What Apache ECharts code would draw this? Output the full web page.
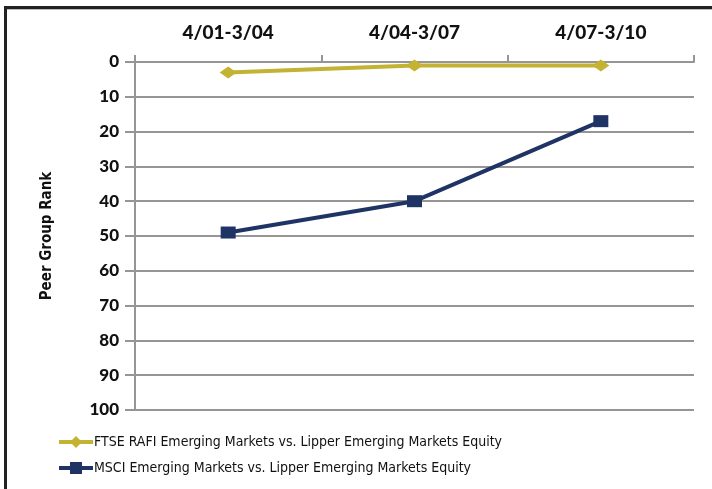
<!DOCTYPE html>
<html>
<head>
<meta charset="utf-8">
<script src="https://cdn.jsdelivr.net/npm/echarts@6/dist/echarts.min.js"></script>
<style>
  html, body { margin: 0; padding: 0; background: #fff; }
  #chart { width: 712px; height: 489px; }
</style>
</head>
<body>
<div id="chart"></div>
<script>
  // periods along the top axis
  var periods = ['4/01-3/04', '4/04-3/07', '4/07-3/10'];
  // peer group rank (lower is better)
  var ftseRank = [3, 1, 1];
  var msciRank = [49, 40, 17];
  var ftseName = 'FTSE RAFI Emerging Markets vs. Lipper Emerging Markets Equity';
  var msciName = 'MSCI Emerging Markets vs. Lipper Emerging Markets Equity';

  var gold = '#c4b232';
  var navy = '#1f3464';
  var axisGray = '#959595';
  var narrow = '"DejaVu Sans Condensed", "Liberation Sans Narrow", "Roboto Condensed", sans-serif';

  var chart = echarts.init(document.getElementById('chart'));
  chart.setOption({
    animation: false,
    grid: { left: 135, right: 18, top: 62, bottom: 79 },
    graphic: [
      { type: 'rect', shape: { x: 4, y: 6, width: 708, height: 3 }, style: { fill: '#222' } },
      { type: 'rect', shape: { x: 4, y: 6, width: 3, height: 483 }, style: { fill: '#222' } },
      { type: 'rect', shape: { x: 7, y: 9, width: 705, height: 1 }, style: { fill: '#bbb' } }
    ],
    legend: {
      orient: 'vertical',
      left: 52,
      top: 430,
      itemGap: 12,
      itemWidth: 34,
      itemHeight: 15,
      lineStyle: { width: 4 },
      textStyle: {
        fontFamily: narrow,
        fontSize: 14,
        color: '#111',
        padding: [0, 0, 0, -4]
      },
      data: [ftseName, msciName]
    },
    xAxis: {
      type: 'category',
      position: 'top',
      data: periods,
      boundaryGap: true,
      axisLine: { lineStyle: { color: axisGray, width: 2 } },
      axisTick: { show: true, length: 7, lineStyle: { color: axisGray, width: 2 } },
      axisLabel: {
        margin: 20,
        color: '#111',
        fontFamily: 'Lato',
        fontWeight: 900,
        fontSize: 19
      },
      splitLine: { show: false }
    },
    yAxis: {
      type: 'value',
      inverse: true,
      min: 0,
      max: 100,
      interval: 10,
      name: 'Peer Group Rank',
      nameLocation: 'middle',
      nameGap: 80,
      nameTextStyle: {
        fontFamily: narrow,
        fontWeight: 'bold',
        fontSize: 15,
        color: '#111'
      },
      axisLine: { show: true, lineStyle: { color: axisGray, width: 2 } },
      axisTick: { show: true, length: 10, lineStyle: { color: axisGray, width: 2 } },
      axisLabel: {
        margin: 16,
        color: '#111',
        fontFamily: 'Lato',
        fontWeight: 900,
        fontSize: 17
      },
      splitLine: { lineStyle: { color: axisGray, width: 2 } }
    },
    series: [
      {
        name: ftseName,
        type: 'line',
        data: ftseRank,
        symbol: 'diamond',
        symbolSize: [17, 12],
        lineStyle: { color: gold, width: 4 },
        itemStyle: { color: gold }
      },
      {
        name: msciName,
        type: 'line',
        data: msciRank,
        symbol: 'rect',
        symbolSize: [15, 12],
        lineStyle: { color: navy, width: 4 },
        itemStyle: { color: navy }
      }
    ]
  });
</script>
</body>
</html>
